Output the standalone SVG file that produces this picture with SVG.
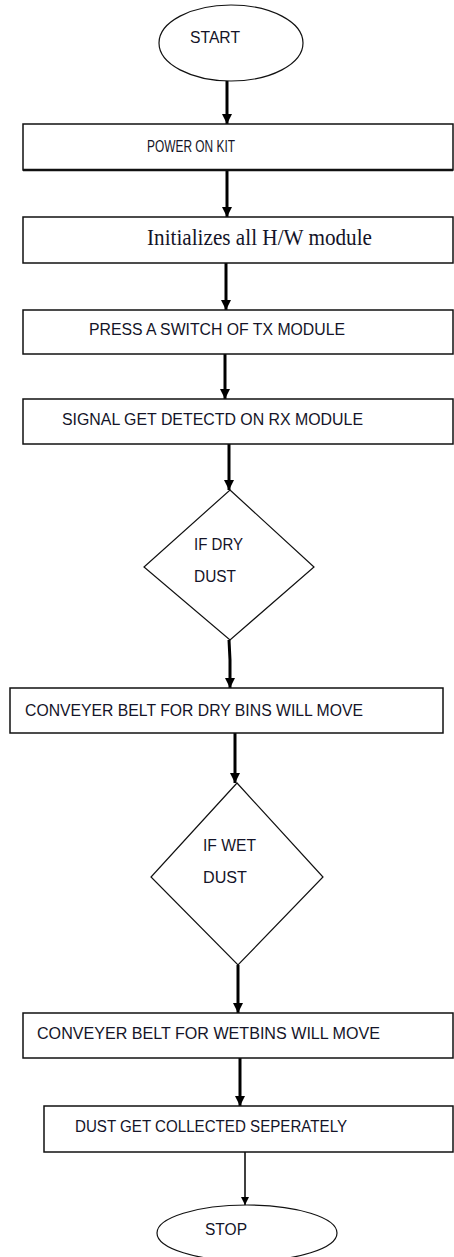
<svg xmlns="http://www.w3.org/2000/svg" width="454" height="1257" viewBox="0 0 454 1257">
<defs>
<style>
.box{fill:#fff;stroke:#111;stroke-width:1.5}
.shape{fill:#fff;stroke:#111;stroke-width:1.2}
.t{font-family:"Liberation Sans",Arial,sans-serif;font-size:16px;fill:#141428}
.ts{font-family:"Liberation Serif","Times New Roman",serif;font-size:23px;fill:#141428}
.a{stroke:#000;stroke-width:3;fill:none}
.a2{stroke:#000;stroke-width:1.5;fill:none}
</style>
<marker id="ah" viewBox="0 0 10 10" refX="10" refY="5" markerWidth="11" markerHeight="10" markerUnits="userSpaceOnUse" orient="auto">
<path d="M0,0 L10,5 L0,10 z" fill="#000"/>
</marker>
<marker id="ah2" viewBox="0 0 10 10" refX="10" refY="5" markerWidth="10" markerHeight="8" markerUnits="userSpaceOnUse" orient="auto">
<path d="M0,0 L10,5 L0,10 z" fill="#000"/>
</marker>
</defs>
<rect width="454" height="1257" fill="#fff"/>

<g id="connectors">
<line id="c1" class="a" x1="227" y1="81" x2="227" y2="124" marker-end="url(#ah)"/>
<line id="c2" class="a" x1="227" y1="170" x2="227" y2="217" marker-end="url(#ah)"/>
<line id="c3" class="a" x1="226" y1="263" x2="226" y2="310" marker-end="url(#ah)"/>
<line id="c4" class="a" x1="225" y1="354" x2="225" y2="399" marker-end="url(#ah)"/>
<line id="c5" class="a" x1="229" y1="444" x2="229" y2="490" marker-end="url(#ah)"/>
<polyline id="c6" class="a" points="229,640 230,660 230,688" marker-end="url(#ah)"/>
<line id="c7" class="a" x1="235" y1="733" x2="235" y2="783" marker-end="url(#ah)"/>
<line id="c8" class="a" x1="238" y1="965" x2="238" y2="1013" marker-end="url(#ah)"/>
<line id="c9" class="a" x1="240" y1="1058" x2="240" y2="1106" marker-end="url(#ah)"/>
<line id="c10" class="a2" x1="245" y1="1152" x2="245" y2="1205" marker-end="url(#ah2)"/>
</g>

<g id="start">
<ellipse class="shape" cx="231" cy="43" rx="72" ry="38"/>
<text class="t" x="190" y="43" textLength="50" lengthAdjust="spacingAndGlyphs">START</text>
</g>

<g id="power">
<rect class="box" x="23" y="124" width="430" height="46"/>
<line x1="23" y1="170" x2="453" y2="170" stroke="#111" stroke-width="2.5"/>
<text class="t" x="147" y="152" textLength="88" lengthAdjust="spacingAndGlyphs">POWER ON KIT</text>
</g>

<g id="init">
<rect class="box" x="23" y="217" width="430" height="46"/>
<text class="ts" x="147" y="245" textLength="225" lengthAdjust="spacingAndGlyphs">Initializes all H/W module</text>
</g>

<g id="press">
<rect class="box" x="23" y="310" width="430" height="44"/>
<text class="t" x="89" y="335" textLength="256" lengthAdjust="spacingAndGlyphs">PRESS A SWITCH OF TX MODULE</text>
</g>

<g id="signal">
<rect class="box" x="23" y="399" width="430" height="45"/>
<text class="t" x="62" y="425" textLength="301" lengthAdjust="spacingAndGlyphs">SIGNAL GET DETECTD ON RX MODULE</text>
</g>

<g id="dry">
<polygon class="shape" points="230,490 314,567 230,640 144,567"/>
<text class="t" x="194" y="550" textLength="49" lengthAdjust="spacingAndGlyphs">IF DRY</text>
<text class="t" x="194" y="582" textLength="42" lengthAdjust="spacingAndGlyphs">DUST</text>
</g>

<g id="drybelt">
<rect class="box" x="10" y="688" width="433" height="45"/>
<text class="t" x="25" y="716" textLength="338" lengthAdjust="spacingAndGlyphs">CONVEYER BELT FOR DRY BINS WILL MOVE</text>
</g>

<g id="wet">
<polygon class="shape" points="237,783 323,877 238,965 151,877"/>
<text class="t" x="203" y="851" textLength="53" lengthAdjust="spacingAndGlyphs">IF WET</text>
<text class="t" x="203" y="883" textLength="44" lengthAdjust="spacingAndGlyphs">DUST</text>
</g>

<g id="wetbelt">
<rect class="box" x="23" y="1013" width="430" height="45"/>
<text class="t" x="37" y="1039" textLength="343" lengthAdjust="spacingAndGlyphs">CONVEYER BELT FOR WETBINS WILL MOVE</text>
</g>

<g id="collect">
<rect class="box" x="44" y="1106" width="409" height="46"/>
<text class="t" x="75" y="1132" textLength="272" lengthAdjust="spacingAndGlyphs">DUST GET COLLECTED SEPERATELY</text>
</g>

<g id="stop">
<ellipse class="shape" cx="247" cy="1233" rx="90" ry="28"/>
<text class="t" x="205" y="1235" textLength="42" lengthAdjust="spacingAndGlyphs">STOP</text>
</g>
</svg>
